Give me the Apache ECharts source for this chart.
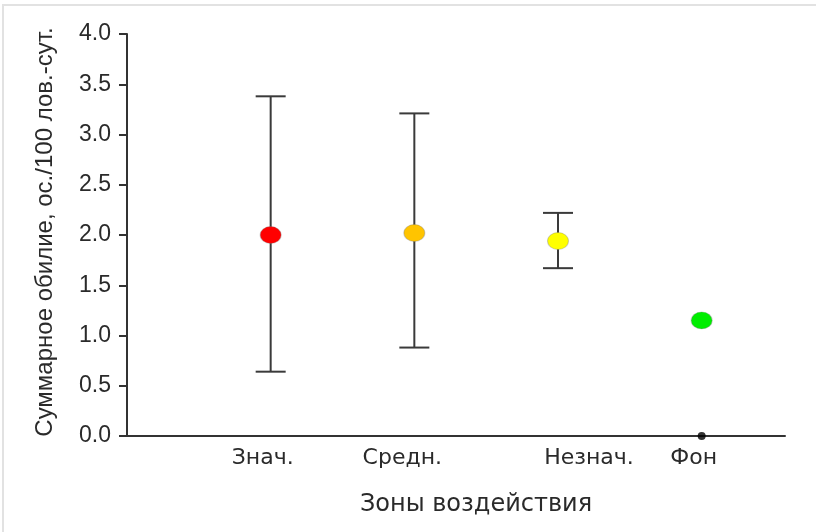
<!DOCTYPE html>
<html>
<head>
<meta charset="utf-8">
<script src="https://cdn.jsdelivr.net/npm/echarts@6/dist/echarts.min.js"></script>
<style>
  html, body { margin: 0; padding: 0; background: #fff; }
  #chart { width: 816px; height: 532px; }
</style>
</head>
<body>
<div id="chart"></div>
<script>
// Impact zones and summary abundance (ind./100 trap-days)
var zones = ['Знач.', 'Средн.', 'Незнач.', 'Фон'];
var zonePos = [1, 2, 3, 4];
var meanValues = [2.00, 2.02, 1.94, 1.15];
var lowValues = [0.64, 0.88, 1.67, null];
var highValues = [3.38, 3.21, 2.22, null];
var zeroMarkZone = 4;
var zeroMarkValue = 0;
var pointColors = ['#ff0000', '#ffc400', '#ffff00', '#00ee00'];

var chart = echarts.init(document.getElementById('chart'), null, { renderer: 'canvas' });

var errorData = [];
var pointData = [];
for (var i = 0; i < zones.length; i++) {
  if (lowValues[i] !== null) {
    errorData.push([zonePos[i], lowValues[i], highValues[i]]);
  }
  pointData.push({
    value: [zonePos[i], meanValues[i]],
    itemStyle: { color: pointColors[i] }
  });
}

// per-label horizontal nudges for the zone names
var labelStyles = {
  z1: { padding: [0, 16, 0, 0] },
  z2: { padding: [0, 24, 0, 0] },
  z3: { padding: [0, 0, 0, 62] },
  z4: { padding: [0, 16, 0, 0] }
};
Object.keys(labelStyles).forEach(function (k) {
  labelStyles[k].fontFamily = 'DejaVu Sans';
  labelStyles[k].fontSize = 22;
  labelStyles[k].color = '#2a2a2a';
});

var option = {
  backgroundColor: '#ffffff',
  animation: false,
  graphic: [{
    type: 'rect',
    shape: { x: 3, y: 5, width: 830, height: 540 },
    style: { fill: 'none', stroke: '#e2e2e2', lineWidth: 2 },
    silent: true
  }],
  grid: { left: 127, right: 31, top: 34, bottom: 96, containLabel: false },
  xAxis: {
    type: 'value',
    min: 0,
    max: 4.58,
    interval: 1,
    splitLine: { show: false },
    axisTick: { show: false },
    axisLine: { show: true, onZero: false, lineStyle: { color: '#333', width: 2 } },
    axisLabel: {
      showMinLabel: false,
      showMaxLabel: false,
      margin: 11,
      formatter: function (v) {
        var idx = zonePos.indexOf(v);
        return idx < 0 ? '' : '{z' + (idx + 1) + '|' + zones[idx] + '}';
      },
      rich: labelStyles
    },
    name: 'Зоны воздействия',
    nameLocation: 'middle',
    nameGap: 57,
    nameTextStyle: {
      fontFamily: 'DejaVu Sans',
      fontSize: 24,
      color: '#2a2a2a',
      padding: [0, 0, 0, 40]
    }
  },
  yAxis: {
    type: 'value',
    min: 0,
    max: 4,
    interval: 0.5,
    splitLine: { show: false },
    axisLine: { show: true, lineStyle: { color: '#333', width: 2 } },
    axisTick: { show: true, length: 8, lineStyle: { color: '#333', width: 2 } },
    axisLabel: {
      margin: 16,
      fontFamily: 'Liberation Sans',
      fontSize: 23,
      color: '#2a2a2a',
      formatter: function (v) { return v.toFixed(1); }
    },
    name: 'Суммарное обилие, ос./100 лов.-сут.',
    nameLocation: 'middle',
    nameGap: 70,
    nameTextStyle: {
      fontFamily: 'Liberation Sans',
      fontSize: 24,
      color: '#2a2a2a',
      padding: [0, 0, 0, 6]
    }
  },
  series: [
    {
      type: 'custom',
      name: 'range',
      data: errorData,
      z: 2,
      renderItem: function (params, api) {
        var x = api.value(0);
        var lo = api.coord([x, api.value(1)]);
        var hi = api.coord([x, api.value(2)]);
        var half = 15;
        var style = { stroke: '#3a3a3a', lineWidth: 2 };
        return {
          type: 'group',
          children: [
            { type: 'line', shape: { x1: lo[0], y1: lo[1], x2: hi[0], y2: hi[1] }, style: style },
            { type: 'line', shape: { x1: lo[0] - half, y1: lo[1], x2: lo[0] + half, y2: lo[1] }, style: style },
            { type: 'line', shape: { x1: hi[0] - half, y1: hi[1], x2: hi[0] + half, y2: hi[1] }, style: style }
          ]
        };
      }
    },
    {
      type: 'scatter',
      name: 'mean',
      data: pointData,
      symbol: 'circle',
      symbolSize: [21, 17],
      z: 3,
      itemStyle: { borderColor: 'rgba(120,120,120,0.35)', borderWidth: 1, opacity: 1 }
    },
    {
      type: 'scatter',
      name: 'zero',
      data: [[zeroMarkZone, zeroMarkValue]],
      symbol: 'circle',
      symbolSize: 8,
      z: 4,
      itemStyle: { color: '#000' }
    }
  ]
};

chart.setOption(option);
</script>
</body>
</html>
